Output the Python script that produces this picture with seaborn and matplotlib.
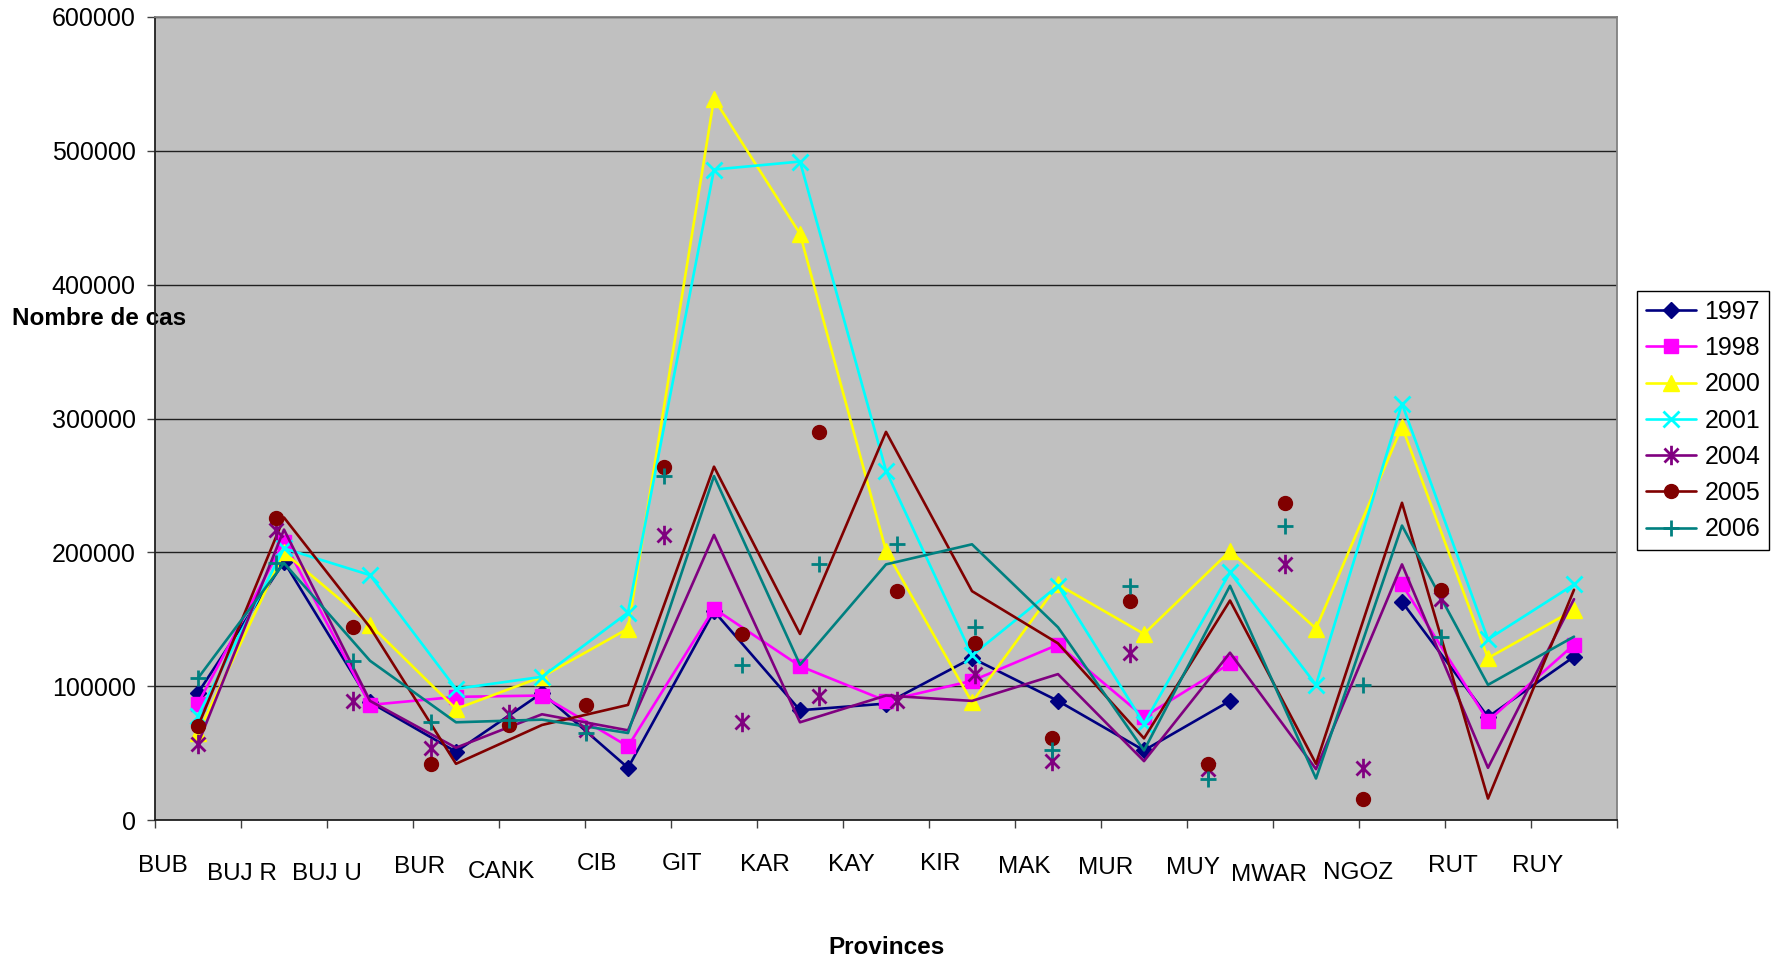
import numpy as np
import pandas as pd
import matplotlib
matplotlib.use("Agg")
import matplotlib.pyplot as plt
import seaborn as sns
from matplotlib.lines import Line2D
from matplotlib.path import Path
from matplotlib import font_manager

# ---------------- data ----------------
provinces = ["BUB", "BUJ R", "BUJ U", "BUR", "CANK", "CIB", "GIT", "KAR", "KAY",
             "KIR", "MAK", "MUR", "MUY", "MWAR", "NGOZ", "RUT", "RUY"]
years = ["1997", "1998", "2000", "2001", "2004", "2005", "2006"]
nan = np.nan
cases_1997 = [95000, 193000, 88000, 51000, 95000, 39000, 156000, 82000, 87000,
              121000, 89000, 52000, 89000, nan, 163000, 77000, 122000]
cases_1998 = [87000, 208000, 86000, 92000, 93000, 55000, 158000, 115000, 89000,
              104000, 131000, 77000, 117000, nan, 176000, 74000, 131000]
cases_2000 = [65000, 200000, 146000, 83000, 107000, 143000, 539000, 438000, 201000,
              88000, 176000, 139000, 201000, 143000, 294000, 121000, 157000]
cases_2001 = [78000, 203000, 183000, 98000, 107000, 155000, 486000, 492000, 261000,
              123000, 175000, 72000, 185000, 101000, 311000, 135000, 176000]
cases_2004 = [57000, 217000, 89000, 54000, 79000, 67000, 213000, 73000, 93000,
              89000, 109000, 44000, 125000, 38000, 191000, 39000, 165000]
cases_2005 = [70000, 226000, 144000, 42000, 71000, 86000, 264000, 139000, 290000,
              171000, 132000, 61000, 164000, 42000, 237000, 16000, 172000]
cases_2006 = [106000, 192000, 119000, 73000, 75000, 65000, 257000, 116000, 191000,
              206000, 144000, 52000, 175000, 31000, 220000, 101000, 137000]
y_ticks = [0, 100000, 200000, 300000, 400000, 500000, 600000]
y_tick_labels = ["0", "100000", "200000", "300000", "400000", "500000", "600000"]

series = [cases_1997, cases_1998, cases_2000, cases_2001, cases_2004, cases_2005, cases_2006]
df = pd.DataFrame({"province": np.tile(provinces, len(years)),
                   "idx": np.tile(np.arange(len(provinces)), len(years)),
                   "year": np.repeat(years, len(provinces)),
                   "cases": np.concatenate([np.array(s, dtype=float) for s in series])})

# ---------------- styles ----------------
ast = Path([(0, -1), (0, 1), (-0.72, -0.72), (0.72, 0.72), (-0.72, 0.72), (0.72, -0.72)],
           [Path.MOVETO, Path.LINETO, Path.MOVETO, Path.LINETO, Path.MOVETO, Path.LINETO])
colors = {"1997": "#000080", "1998": "#FF00FF", "2000": "#FFFF00", "2001": "#00FFFF",
          "2004": "#800080", "2005": "#800000", "2006": "#008080"}
markers = {"1997": "D", "1998": "s", "2000": "^", "2001": "x",
           "2004": ast, "2005": "o", "2006": "+"}
msize = {"1997": 8.5, "1998": 10, "2000": 11, "2001": 11, "2004": 14, "2005": 10, "2006": 12}
mew = {"1997": 1, "1998": 1, "2000": 1, "2001": 2, "2004": 2, "2005": 1, "2006": 2}
detached = {"2004", "2005", "2006"}   # markers drawn on a compressed x scale
marker_scale = 0.903

sns.set_style("ticks")
fam = ["Liberation Sans", "DejaVu Sans"]
plt.rcParams["font.family"] = fam
for key in ["text.color", "axes.labelcolor", "xtick.color", "ytick.color"]:
    plt.rcParams[key] = "black"
try:
    font_manager.findfont("Liberation Sans Narrow", fallback_to_default=False)
    narrow, narrow_size = ["Liberation Sans Narrow", "Liberation Sans"], 20
except Exception:
    narrow, narrow_size = fam, 17.5

W, H = 1771, 961
fig = plt.figure(figsize=(W / 100, H / 100), dpi=100)
L, R, T, B = 155, 1617, 17, 820
ax = fig.add_axes([L / W, 1 - B / H, (R - L) / W, (B - T) / H])
ax.set_facecolor("#C0C0C0")

for yr in years:
    sub = df[df.year == yr].reset_index(drop=True)
    c = colors[yr]
    valid = sub.cases.notna().values
    runs, cur = [], []
    for i, v in enumerate(valid):
        if v:
            cur.append(i)
        elif cur:
            runs.append(cur); cur = []
    if cur:
        runs.append(cur)
    for run in runs:
        seg = sub.iloc[run]
        kw = dict(ax=ax, color=c, lw=1.9, estimator=None, sort=False, zorder=3)
        if yr not in detached:
            kw.update(marker=markers[yr], markersize=msize[yr], markeredgecolor=c,
                      markerfacecolor=c, markeredgewidth=mew[yr])
        sns.lineplot(x=seg.idx.values, y=seg.cases.values, **kw)
    if yr in detached:
        sns.scatterplot(x=sub.idx.values * marker_scale, y=sub.cases.values, ax=ax,
                        marker=markers[yr], s=msize[yr] ** 2, color=c, edgecolor=c,
                        linewidth=mew[yr], zorder=4, legend=False)

# ---------------- axes ----------------
n = len(provinces)
ax.set_xlim(-0.5, n - 0.5)
ax.set_ylim(0, 600000)
ax.set_yticks(y_ticks)
ax.set_yticklabels(y_tick_labels)
ax.yaxis.grid(True, color="#202020", lw=1.0)
ax.set_axisbelow(True)
ax.set_xticks(np.arange(n + 1) - 0.5)
ax.set_xticklabels([])
ax.tick_params(axis="x", direction="out", length=6, width=1, color="#404040")
ax.tick_params(axis="y", direction="out", length=6, width=1, color="#404040",
               labelcolor="black", labelsize=18, pad=8.0)
for s in ["left", "bottom"]:
    ax.spines[s].set_color("#202020"); ax.spines[s].set_linewidth(1.3)
for s in ["top", "right"]:
    ax.spines[s].set_color("#808080"); ax.spines[s].set_linewidth(1.3)

# staggered category labels (Excel layout)
label_dx_px = [8, 1, 0, 7, 2, 12, 11, 8, 8, 11, 9, 5, 6, -4, -1, 8, 7]
label_dy_px = [46, 54, 54, 47, 52, 44, 44, 45, 45, 44, 47, 48, 48, 55, 53, 46, 46]
cat_px = (R - L) / n
for k, name in enumerate(provinces):
    ax.annotate(name, xy=(k - 0.5 + label_dx_px[k] / cat_px, 0),
                xycoords=("data", "axes fraction"),
                xytext=(0, -label_dy_px[k] * 0.72), textcoords="offset points",
                ha="center", va="center", fontsize=narrow_size, family=narrow,
                color="black")

ax.set_xlabel("Provinces", fontsize=17.5, fontweight="bold", va="center", color="black")
ax.xaxis.set_label_coords(0.5, (B - 947) / (B - T))
ax.set_ylabel("Nombre de cas", fontsize=17.5, fontweight="bold", rotation=0,
              ha="left", va="center", color="black")
ax.yaxis.set_label_coords((12 - L) / (R - L), (B - 318.5) / (B - T))

handles = []
for yr in years:
    c = colors[yr]
    handles.append(Line2D([0], [0], color=c, lw=1.9, marker=markers[yr],
                          markersize=msize[yr], markeredgecolor=c, markerfacecolor=c,
                          markeredgewidth=mew[yr]))
leg = fig.legend(handles, years, loc="upper left",
                 bbox_to_anchor=(1637 / W, 1 - 291 / H), fontsize=18,
                 frameon=True, fancybox=False, edgecolor="black", framealpha=1,
                 borderpad=0.35, labelspacing=0.49, handlelength=2.0, handletextpad=0.35,
                 borderaxespad=0)
leg.get_frame().set_linewidth(1.0)
for t in leg.get_texts():
    t.set_color("black")

fig.savefig("out.png", dpi=100)
